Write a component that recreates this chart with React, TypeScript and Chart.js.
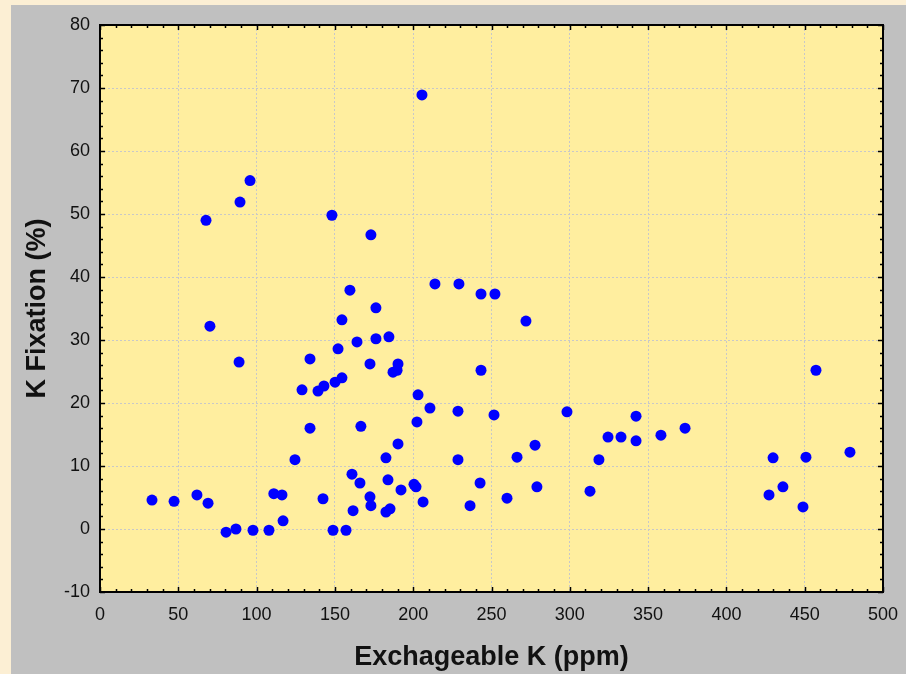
import React, { useEffect, useRef } from "react";
import { Chart, registerables } from "chart.js";

Chart.register(...registerables);

const exchK: number[] = [
  33.2, 47.3, 61.9, 69.0, 67.7, 70.2, 89.4, 95.8, 88.8, 80.5,
  86.8, 97.7, 107.9, 111.0, 116.2, 116.9, 124.5, 129.0, 134.1, 134.1,
  139.2, 143.0, 142.4, 148.1, 148.8, 157.1, 150.1, 152.0, 154.5, 154.5,
  159.6, 160.9, 161.6, 164.1, 166.0, 166.6, 173.0, 172.4, 172.4, 173.0,
  176.2, 176.2, 184.5, 182.6, 183.9, 182.6, 185.2, 187.1, 190.3, 189.7,
  190.3, 192.2, 200.5, 201.8, 203.1, 202.4, 206.3, 205.6, 210.7, 213.9,
  228.6, 229.2, 228.6, 236.3, 243.3, 243.3, 242.7, 252.2, 251.6, 259.9,
  266.3, 272.0, 277.8, 279.0, 298.2, 312.9, 318.6, 324.4, 332.7, 342.3,
  342.3, 358.2, 373.6, 427.2, 429.8, 436.1, 448.9, 450.8, 457.2, 478.9,
];

const kFixation: number[] = [
  4.6, 4.4, 5.4, 4.1, 49.0, 32.2, 51.9, 55.3, 26.5, -0.5,
  0.0, -0.2, -0.2, 5.6, 5.4, 1.3, 11.0, 22.1, 27.0, 16.0,
  21.9, 22.7, 4.8, 49.8, -0.2, -0.2, 23.3, 28.6, 24.0, 33.2,
  37.9, 8.7, 2.9, 29.7, 7.3, 16.3, 46.7, 26.2, 5.1, 3.7,
  35.1, 30.2, 30.5, 11.3, 7.8, 2.7, 3.2, 24.9, 26.2, 25.2,
  13.5, 6.2, 7.1, 6.7, 21.3, 17.0, 4.3, 68.9, 19.2, 38.9,
  18.7, 38.9, 11.0, 3.7, 37.3, 25.2, 7.3, 37.3, 18.1, 4.9,
  11.4, 33.0, 13.3, 6.7, 18.6, 6.0, 11.0, 14.6, 14.6, 17.9,
  14.0, 14.9, 16.0, 5.4, 11.3, 6.7, 3.5, 11.4, 25.2, 12.2,
];

const xTitle = "Exchageable K (ppm)";
const yTitle = "K Fixation (%)";
const xMin = 0, xMax = 500, xStep = 50, xMinor = 10;
const yMin = -10, yMax = 80, yStep = 10, yMinor = 2;

const FONT = "'Liberation Sans', Arial, sans-serif";

const framePlugin = {
  id: "framePlugin",
  beforeDraw(chart: any) {
    const { ctx, width, height, chartArea } = chart;
    ctx.save();
    ctx.fillStyle = "#fcefd4";
    ctx.fillRect(0, 0, width, height);
    ctx.fillStyle = "#c0c0c0";
    ctx.fillRect(11, 5, width - 11, height - 5);
    ctx.fillStyle = "#ffee9f";
    ctx.fillRect(chartArea.left, chartArea.top, chartArea.right - chartArea.left, chartArea.bottom - chartArea.top);
    ctx.restore();
  },
  afterDatasetsDraw(chart: any) {
    const { ctx, chartArea, scales } = chart;
    const { left, right, top, bottom } = chartArea;
    ctx.save();
    ctx.strokeStyle = "#000";
    ctx.lineWidth = 1.5;
    ctx.beginPath();
    for (let v = xMin; v <= xMax; v += xMinor) {
      const px = Math.round(scales.x.getPixelForValue(v)) + 0.5;
      const len = v % xStep === 0 ? 5 : 3;
      ctx.moveTo(px, bottom);
      ctx.lineTo(px, bottom - len);
      ctx.moveTo(px, top);
      ctx.lineTo(px, top + len);
    }
    for (let v = yMin; v <= yMax; v += yMinor) {
      const py = Math.round(scales.y.getPixelForValue(v)) + 0.5;
      const len = v % yStep === 0 ? 5 : 3;
      ctx.moveTo(left, py);
      ctx.lineTo(left + len, py);
      ctx.moveTo(right, py);
      ctx.lineTo(right - len, py);
    }
    ctx.stroke();
    ctx.lineWidth = 2;
    ctx.strokeRect(left, top, right - left, bottom - top);
    ctx.restore();
  },
};

export default function App() {
  const ref = useRef<HTMLCanvasElement | null>(null);

  useEffect(() => {
    if (!ref.current) return;
    const points = exchK.map((x, i) => ({ x, y: kFixation[i] }));
    const chart = new Chart(ref.current, {
      type: "scatter",
      data: {
        datasets: [
          {
            data: points,
            backgroundColor: "#0000ff",
            borderColor: "#0000ff",
            borderWidth: 0,
            pointRadius: 5.5,
            pointHoverRadius: 5.5,
          },
        ],
      },
      options: {
        animation: false,
        responsive: false,
        devicePixelRatio: 1,
        layout: { padding: { left: 0, top: 25, right: 23, bottom: 0 } },
        plugins: {
          legend: { display: false },
          tooltip: { enabled: false },
        },
        scales: {
          x: {
            type: "linear",
            min: xMin,
            max: xMax,
            afterFit: (s: any) => {
              s.height = 82;
              s.paddingLeft = 0;
              s.paddingRight = 0;
            },
            ticks: {
              stepSize: xStep,
              color: "#111",
              padding: 12,
              font: { family: FONT, size: 18 },
            },
            grid: {
              color: "#c8c8c8",
              lineWidth: 1,
              drawTicks: false,
            },
            border: { display: false, dash: [2, 2] },
            title: {
              display: true,
              text: xTitle,
              color: "#111",
              font: { family: FONT, size: 27, weight: "bold" },
              padding: { top: 0, bottom: 0 },
            },
          },
          y: {
            type: "linear",
            min: yMin,
            max: yMax,
            afterFit: (s: any) => {
              s.width = 100;
              s.paddingTop = 0;
              s.paddingBottom = 0;
            },
            ticks: {
              stepSize: yStep,
              color: "#111",
              padding: 10,
              font: { family: FONT, size: 18 },
            },
            grid: {
              color: "#c8c8c8",
              lineWidth: 1,
              drawTicks: false,
            },
            border: { display: false, dash: [2, 2] },
            title: {
              display: true,
              text: yTitle,
              color: "#111",
              font: { family: FONT, size: 27, weight: "bold" },
              padding: { top: 21, bottom: 0 },
            },
          },
        },
      },
      plugins: [framePlugin],
    });
    return () => chart.destroy();
  }, []);

  return (
    <div style={{ position: "absolute", left: 0, top: 0, width: 906, height: 674 }}>
      <canvas ref={ref} width={906} height={674} style={{ display: "block" }} />
    </div>
  );
}
